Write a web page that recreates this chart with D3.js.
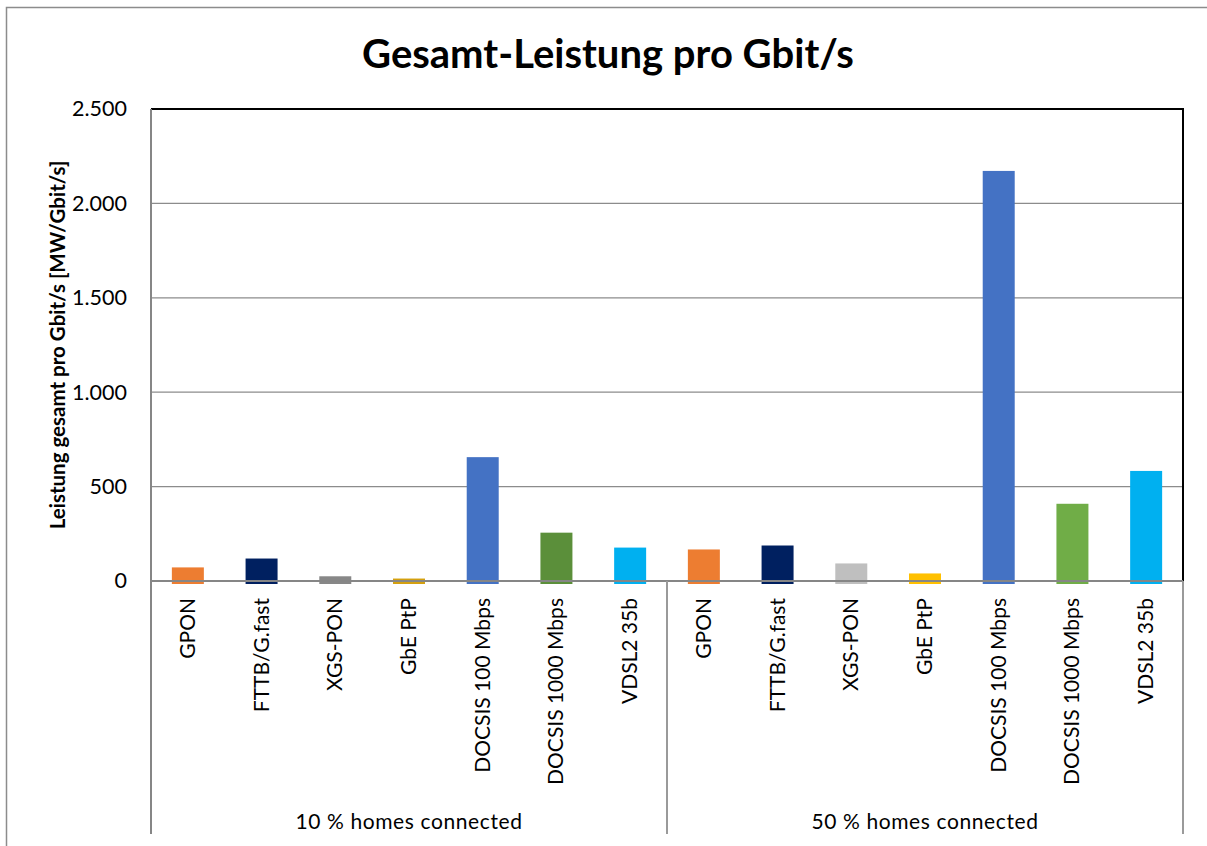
<!DOCTYPE html>
<html>
<head>
<meta charset="utf-8">
<script src="https://cdn.jsdelivr.net/npm/d3@7"></script>
<style>
  body { margin: 0; background: #fff; }
  text { font-family: Lato, "Open Sans", sans-serif; fill: #000; }
</style>
</head>
<body>
<svg></svg>
<script>
// data
var groups = ["10 % homes connected", "50 % homes connected"];
var technologies = ["GPON", "FTTB/G.fast", "XGS-PON", "GbE PtP", "DOCSIS 100 Mbps", "DOCSIS 1000 Mbps", "VDSL2 35b"];
var values10 = [72, 119, 25, 13, 656, 256, 177];
var values50 = [167, 188, 93, 40, 2172, 409, 583];
var colors10 = ["#ED7D31", "#002060", "#878787", "#D4A00F", "#4472C4", "#5B8F3A", "#00B0F0"];
var colors50 = ["#ED7D31", "#002060", "#BFBFBF", "#FFC000", "#4472C4", "#70AD47", "#00B0F0"];
var yTicks = [0, 500, 1000, 1500, 2000, 2500];

var svgWidth = 1207, svgHeight = 846;
// plot box (window.top is reserved, so prefixed names)
var plotL = 151, plotR = 1183, plotT = 109, plotB = 581, labelBottom = 834;

var rows = [];
groups.forEach(function(g, gi) {
  var vals = gi === 0 ? values10 : values50;
  var cols = gi === 0 ? colors10 : colors50;
  technologies.forEach(function(t, i) {
    rows.push({group: g, gi: gi, tech: t, value: vals[i], color: cols[i], key: gi + "|" + t});
  });
});

var svg = d3.select('svg')
  .attr('width', svgWidth)
  .attr('height', svgHeight);

// outer chart frame
svg.append('rect')
  .attr('x', 6.5).attr('y', 7.5)
  .attr('width', 1220).attr('height', 900)
  .attr('fill', 'none')
  .attr('stroke', '#8c8c8c')
  .attr('stroke-width', 1.5);

var de = d3.formatLocale({decimal: ",", thousands: ".", grouping: [3], currency: ["", " €"]});

var xScale = d3.scaleBand()
  .domain(rows.map(d => d.key))
  .range([plotL, plotR])
  .paddingInner(0.566)
  .paddingOuter(0.283);

var yScale = d3.scaleLinear()
  .domain([0, 2500])
  .range([plotB, plotT]);

// gridlines
svg.append('g')
  .selectAll('line')
  .data(yTicks.filter(d => d > 0 && d < 2500))
  .enter()
  .append('line')
  .attr('x1', plotL).attr('x2', plotR)
  .attr('y1', d => yScale(d)).attr('y2', d => yScale(d))
  .attr('stroke', '#8c8c8c')
  .attr('stroke-width', 1.3);

// bars (they reach a little below the zero line, like in the original)
svg.append('g')
  .selectAll('rect')
  .data(rows)
  .enter()
  .append('rect')
  .attr('x', d => xScale(d.key))
  .attr('y', d => yScale(d.value))
  .attr('width', xScale.bandwidth())
  .attr('height', d => yScale(0) - yScale(d.value) + 3)
  .attr('fill', d => d.color);

// plot frame: black top and right
svg.append('path')
  .attr('d', 'M' + plotL + ',' + plotT + 'H' + plotR + 'V' + plotB)
  .attr('fill', 'none')
  .attr('stroke', '#000')
  .attr('stroke-width', 2);

// y axis
var yAxis = d3.axisLeft(yScale)
  .tickValues(yTicks)
  .tickSize(0)
  .tickPadding(24)
  .tickFormat(de.format(","));

svg.append('g')
  .attr('transform', 'translate(' + plotL + ',0)')
  .call(yAxis)
  .call(g => g.select('.domain').remove())
  .selectAll('text')
  .attr('font-family', 'Lato, sans-serif')
  .attr('font-size', 21.5)
  .attr('fill', '#000');

// zero line over bars
svg.append('line')
  .attr('x1', plotL).attr('x2', plotR)
  .attr('y1', yScale(0)).attr('y2', yScale(0))
  .attr('stroke', '#868686')
  .attr('stroke-width', 2);

// left axis line down through the label area, plus group dividers
svg.append('line')
  .attr('x1', plotL).attr('x2', plotL)
  .attr('y1', plotT).attr('y2', labelBottom)
  .attr('stroke', '#868686').attr('stroke-width', 2);

var groupEdges = groups.map(function(g, gi) {
  var keys = rows.filter(d => d.gi === gi).map(d => d.key);
  var x0 = xScale(keys[0]) - xScale.step() * xScale.paddingInner() / 2;
  var x1 = xScale(keys[keys.length - 1]) + xScale.bandwidth() + xScale.step() * xScale.paddingInner() / 2;
  return {group: g, x0: x0, x1: x1};
});

svg.append('g')
  .selectAll('line')
  .data(groupEdges)
  .enter()
  .append('line')
  .attr('x1', d => d.x1).attr('x2', d => d.x1)
  .attr('y1', yScale(0)).attr('y2', labelBottom)
  .attr('stroke', '#9a9a9a').attr('stroke-width', 2);

// category labels
svg.append('g')
  .selectAll('text')
  .data(rows)
  .enter()
  .append('text')
  .attr('transform', d => 'translate(' + (xScale(d.key) + xScale.bandwidth() / 2 + 7) + ',' + (plotB + 17) + ') rotate(-90)')
  .attr('text-anchor', 'end')
  .attr('font-size', 21)
  .text(d => d.tech);

// group labels
svg.append('g')
  .selectAll('text')
  .data(groupEdges)
  .enter()
  .append('text')
  .attr('x', d => (d.x0 + d.x1) / 2)
  .attr('y', 829)
  .attr('text-anchor', 'middle')
  .attr('font-size', 21)
  .attr('letter-spacing', 0.6)
  .text(d => d.group);

// y title
svg.append('text')
  .attr('transform', 'translate(65,' + ((plotT + plotB) / 2) + ') rotate(-90)')
  .attr('text-anchor', 'middle')
  .attr('font-size', 20.5)
  .attr('font-weight', 'bold')
  .text('Leistung gesamt  pro Gbit/s [MW/Gbit/s]');

// title
svg.append('text')
  .attr('x', 608)
  .attr('y', 68)
  .attr('text-anchor', 'middle')
  .attr('font-size', 40)
  .attr('font-weight', 'bold')
  .text('Gesamt-Leistung pro Gbit/s');
</script>
</body>
</html>
